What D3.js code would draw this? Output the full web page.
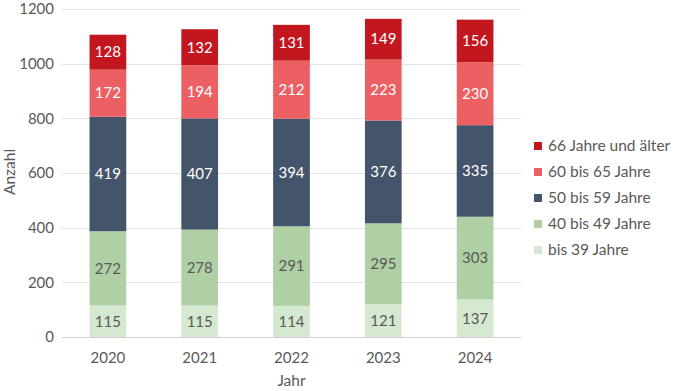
<!DOCTYPE html>
<html>
<head>
<meta charset="utf-8">
<script src="https://cdn.jsdelivr.net/npm/d3@7"></script>
<style>
	body { margin: 0; background: #fff; }
	text { font-family: Lato, "Open Sans", sans-serif; fill: #595959; }
</style>
</head>
<body>
<svg width="673" height="391"></svg>
<script>
// data
const years = ["2020", "2021", "2022", "2023", "2024"]
const groups = ["bis 39 Jahre", "40 bis 49 Jahre", "50 bis 59 Jahre", "60 bis 65 Jahre", "66 Jahre und älter"]
const bis39 = [115, 115, 114, 121, 137]
const von40 = [272, 278, 291, 295, 303]
const von50 = [419, 407, 394, 376, 335]
const von60 = [172, 194, 212, 223, 230]
const ab66 = [128, 132, 131, 149, 156]
const yTicks = [0, 200, 400, 600, 800, 1000, 1200]

const colors = ["#d5e8d0", "#aed0a4", "#44546a", "#ec5f63", "#c3171f"]
const labelColors = ["#595959", "#595959", "#ffffff", "#ffffff", "#ffffff"]

const margin = {top: 9, right: 152, bottom: 54, left: 62}
const width = 673 - margin.left - margin.right
const height = 391 - margin.top - margin.bottom

const rows = years.map((y, i) => ({
	year: y,
	"bis 39 Jahre": bis39[i],
	"40 bis 49 Jahre": von40[i],
	"50 bis 59 Jahre": von50[i],
	"60 bis 65 Jahre": von60[i],
	"66 Jahre und älter": ab66[i],
}))
const stacked = d3.stack().keys(groups)(rows)

const x = d3.scaleBand().domain(years).range([0, width]).paddingInner(0.6).paddingOuter(0.3)
const y = d3.scaleLinear().domain([0, 1200]).range([height, 0])

const svg = d3.select("svg")
	.append("g")
	.attr("transform", "translate(" + margin.left + "," + margin.top + ")")

// gridlines
svg.append("g")
	.selectAll("line")
	.data(yTicks)
	.join("line")
	.attr("x1", 0)
	.attr("x2", width)
	.attr("y1", d => Math.round(y(d)) + 0.5)
	.attr("y2", d => Math.round(y(d)) + 0.5)
	.attr("stroke", d => d === 0 ? "#d0d0d0" : "#e3e3e3")
	.attr("stroke-width", 1)

// y tick labels
svg.append("g")
	.selectAll("text")
	.data(yTicks)
	.join("text")
	.attr("x", -8)
	.attr("y", d => y(d))
	.attr("dy", "0.35em")
	.attr("text-anchor", "end")
	.style("font-size", "15px")
	.text(d => d)

// x tick labels
svg.append("g")
	.selectAll("text")
	.data(years)
	.join("text")
	.attr("x", d => x(d) + x.bandwidth() / 2)
	.attr("y", height + 26)
	.attr("text-anchor", "middle")
	.style("font-size", "15px")
	.text(d => d)

// bars
const layer = svg.append("g")
	.selectAll("g")
	.data(stacked)
	.join("g")
	.attr("fill", (d, i) => colors[i])

layer.selectAll("rect")
	.data(d => d)
	.join("rect")
	.attr("x", d => x(d.data.year))
	.attr("y", d => y(d[1]))
	.attr("width", x.bandwidth())
	.attr("height", d => y(d[0]) - y(d[1]))

// value labels
svg.append("g")
	.selectAll("g")
	.data(stacked)
	.join("g")
	.each(function(s, i) {
		d3.select(this).selectAll("text")
			.data(s)
			.join("text")
			.attr("x", d => x(d.data.year) + x.bandwidth() / 2)
			.attr("y", d => (y(d[0]) + y(d[1])) / 2)
			.attr("dy", "0.35em")
			.attr("text-anchor", "middle")
			.style("font-size", "15px")
			.style("fill", labelColors[i])
			.text(d => d[1] - d[0])
	})

// axis titles
svg.append("text")
	.attr("transform", "rotate(-90)")
	.attr("x", -163)
	.attr("y", -47)
	.attr("text-anchor", "middle")
	.style("font-size", "15.5px")
	.text("Anzahl")

svg.append("text")
	.attr("x", width / 2)
	.attr("y", height + 49)
	.attr("text-anchor", "middle")
	.style("font-size", "15.5px")
	.text("Jahr")

// legend, top entry is the top segment
const legend = svg.append("g")
	.attr("transform", "translate(" + (width + 13) + ",137)")
	.selectAll("g")
	.data(groups.slice().reverse())
	.join("g")
	.attr("transform", (d, i) => "translate(0," + i * 26 + ")")

legend.append("rect")
	.attr("x", 0)
	.attr("y", -4)
	.attr("width", 8)
	.attr("height", 8)
	.attr("fill", d => colors[groups.indexOf(d)])

legend.append("text")
	.attr("x", 14)
	.attr("y", 0)
	.attr("dy", "0.35em")
	.style("font-size", "15.5px")
	.text(d => d)
</script>
</body>
</html>
